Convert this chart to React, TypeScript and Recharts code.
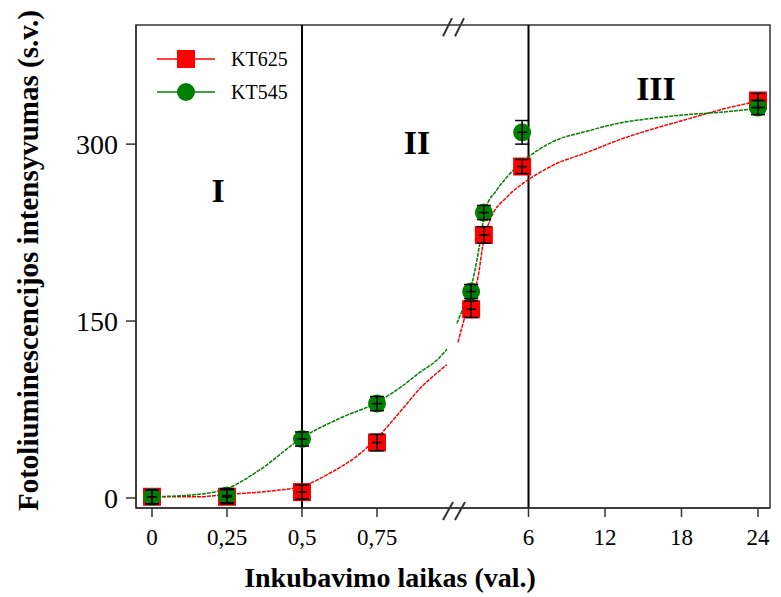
import React from 'react';
import {
  ComposedChart,
  Line,
  Scatter,
  XAxis,
  YAxis,
  ErrorBar,
  ReferenceLine,
  ReferenceDot,
  ReferenceArea,
  Legend,
  Label,
} from 'recharts';

// measured points: the first four sit on the stretched (minutes) part of the axis
const earlyTimes = [0, 0.25, 0.5, 0.75];
const lateTimes = [1.5, 2.5, 5.5, 24];

const kt625Early = [1, 1, 5, 47];
const kt625Late = [160, 223, 281, 337];
const kt625Err = [6, 6, 6, 7, 7, 7, 6, 6];

const kt545Early = [1, 2, 50, 80];
const kt545Late = [175, 242, 310, 331];
const kt545Err = [6, 6, 6, 6, 6, 6, 10, 6];

// fitted curves
const fit625EarlyT = [0, 0.15, 0.25, 0.4, 0.5, 0.6, 0.7, 0.75, 0.84, 0.89, 0.95, 0.983];
const fit625EarlyV = [1, 1, 3, 6, 10, 22, 39, 51, 77, 92, 106, 113];
const fit625LateT = [0.47, 1.0, 1.57, 2.0, 2.5, 3.0, 4.3, 5.6, 6.9, 7.9, 10.6, 13.2, 15.8, 18.4, 21.0, 23.8];
const fit625LateV = [132, 153, 171, 185, 219, 236, 255, 267, 276, 282, 293, 304, 313, 321, 329, 336];

const fit545EarlyT = [0, 0.15, 0.25, 0.36, 0.5, 0.63, 0.75, 0.84, 0.89, 0.95, 0.983];
const fit545EarlyV = [1, 3, 8, 24, 51, 68, 81, 96, 106, 117, 126];
const fit545LateT = [0.39, 1.0, 1.57, 1.96, 2.27, 2.6, 3.5, 4.3, 5.6, 6.9, 7.9, 10.6, 13.2, 15.8, 18.4, 21.0, 23.8];
const fit545LateV = [148, 165, 182, 202, 222, 244, 261, 272, 286, 296, 302, 311, 318, 322, 325, 327, 330];

const xTickTimes = [0, 0.25, 0.5, 0.75, 6, 12, 18, 24];
const xTickLabels = ['0', '0,25', '0,5', '0,75', '6', '12', '18', '24'];
const yTicks = [0, 150, 300];

const RED = '#ff0000';
const GREEN = '#008000';
const FONT = '"Liberation Serif", "Times New Roman", serif';

// broken axis: before the break 1 h = 300 units, after it 1 h = 12.75 units
const toEarly = (t: number) => t * 300;
const toLate = (t: number) => 300 + t * 12.75;
// small horizontal error (hours) on each side of the break
const errEarly = 0.017;
const errLate = 0.4;

const makePoints = (early: number[], late: number[], err: number[]) => [
  ...earlyTimes.map((t, i) => ({ x: toEarly(t), y: early[i], err: err[i], errX: errEarly * 300 })),
  ...lateTimes.map((t, i) => ({ x: toLate(t), y: late[i], err: err[i + 4], errX: errLate * 12.75 })),
];
const makeCurve = (ts: number[], vs: number[], f: (t: number) => number) =>
  ts.map((t, i) => ({ x: f(t), y: vs[i] }));

const pts625 = makePoints(kt625Early, kt625Late, kt625Err);
const pts545 = makePoints(kt545Early, kt545Late, kt545Err);

const xTicks = xTickTimes.map((t) => (t < 1 ? toEarly(t) : toLate(t)));
const xLabelFor = (v: number) => {
  const i = xTicks.findIndex((p) => Math.abs(p - v) < 0.01);
  return i >= 0 ? xTickLabels[i] : '';
};

const RedSquare = (props: any) => (
  <rect x={props.cx - 9} y={props.cy - 9} width={18} height={18} fill={RED} />
);
const GreenDot = (props: any) => <circle cx={props.cx} cy={props.cy} r={9} fill={GREEN} />;
const Nothing = () => <g />;

const renderLegend = () => (
  <svg width={160} height={60}>
    <line x1={7} x2={65} y1={14} y2={14} stroke={RED} strokeWidth={1.5} />
    <rect x={27} y={5} width={18} height={18} fill={RED} />
    <text x={81} y={21} fontFamily={FONT} fontSize={20} fill="#000">KT625</text>
    <line x1={7} x2={65} y1={47} y2={47} stroke={GREEN} strokeWidth={1.5} />
    <circle cx={36} cy={47} r={9} fill={GREEN} />
    <text x={81} y={54} fontFamily={FONT} fontSize={20} fill="#000">KT545</text>
  </svg>
);

const AXIS = '#333';
const lineProps = { dataKey: 'y', type: 'monotone' as const, strokeWidth: 1.5, strokeDasharray: '4 1', dot: false, isAnimationActive: false };
const errProps: any = { stroke: '#000', strokeWidth: 1.5, zIndex: 1000 };

export default function App() {
  return (
    <div style={{ position: 'absolute', left: 0, top: 0 }}>
      <ComposedChart width={781} height={597} margin={{ top: 25, right: 11, bottom: 0, left: 0 }}>
        <XAxis
          type="number"
          dataKey="x"
          domain={[-16, 618]}
          allowDataOverflow
          ticks={xTicks}
          tickFormatter={xLabelFor}
          interval={0}
          height={89}
          tickSize={9}
          tickMargin={12}
          stroke={AXIS}
          strokeWidth={1.5}
          tick={{ fill: '#000', fontSize: 23, fontFamily: FONT }}
        >
          <Label
            value="Inkubavimo laikas (val.)"
            position="insideBottom"
            offset={10}
            dx={-63}
            style={{ fontSize: 28, fontWeight: 'bold', fontFamily: FONT, fill: '#000' }}
          />
        </XAxis>
        <YAxis
          type="number"
          dataKey="y"
          domain={[-8.5, 401]}
          allowDataOverflow
          ticks={yTicks}
          width={136}
          tickSize={10}
          tickMargin={8}
          stroke={AXIS}
          strokeWidth={1.5}
          tick={{ fill: '#000', fontSize: 28, fontFamily: FONT }}
        >
          <Label
            value="Fotoliuminescencijos intensyvumas (s.v.)"
            position="center"
            angle={-90}
            dx={-40}
            dy={-6}
            style={{ fontSize: 29, fontWeight: 'bold', fontFamily: FONT, fill: '#000', textAnchor: 'middle' }}
          />
        </YAxis>

        <ReferenceArea x1={-16} x2={618} y1={-8.5} y2={401} fill="none" stroke={AXIS} strokeWidth={1.5} ifOverflow="visible" />
        <ReferenceLine x={toEarly(0.5)} stroke="#000" strokeWidth={2} />
        <ReferenceLine x={toLate(6)} stroke="#000" strokeWidth={2} />

        {/* axis break marks */}
        <ReferenceLine segment={[{ x: 291, y: 391.5 }, { x: 300, y: 406.8 }]} stroke={AXIS} strokeWidth={2} ifOverflow="visible" />
        <ReferenceLine segment={[{ x: 303, y: 391.5 }, { x: 312, y: 406.8 }]} stroke={AXIS} strokeWidth={2} ifOverflow="visible" />
        <ReferenceLine segment={[{ x: 291, y: -18.6 }, { x: 301, y: -3.4 }]} stroke={AXIS} strokeWidth={2} ifOverflow="visible" />
        <ReferenceLine segment={[{ x: 303, y: -18.6 }, { x: 313, y: -3.4 }]} stroke={AXIS} strokeWidth={2} ifOverflow="visible" />

        <ReferenceDot x={66} y={261} r={0} fill="none" stroke="none"
          label={{ value: 'I', position: 'center', fontSize: 34, fontWeight: 'bold', fontFamily: FONT, fill: '#000' }} />
        <ReferenceDot x={265} y={302} r={0} fill="none" stroke="none"
          label={{ value: 'II', position: 'center', fontSize: 34, fontWeight: 'bold', fontFamily: FONT, fill: '#000' }} />
        <ReferenceDot x={504} y={348} r={0} fill="none" stroke="none"
          label={{ value: 'III', position: 'center', fontSize: 34, fontWeight: 'bold', fontFamily: FONT, fill: '#000' }} />

        <Line {...lineProps} data={makeCurve(fit625EarlyT, fit625EarlyV, toEarly)} stroke={RED} />
        <Line {...lineProps} data={makeCurve(fit625LateT, fit625LateV, toLate)} stroke={RED} />
        <Line {...lineProps} data={makeCurve(fit545EarlyT, fit545EarlyV, toEarly)} stroke={GREEN} />
        <Line {...lineProps} data={makeCurve(fit545LateT, fit545LateV, toLate)} stroke={GREEN} />

        <Scatter name="KT625" data={pts625} shape={RedSquare} isAnimationActive={false} />
        <Scatter name="KT545" data={pts545} shape={GreenDot} isAnimationActive={false} />
        <Scatter data={pts625} shape={Nothing} isAnimationActive={false} legendType="none" zIndex={1000}>
          <ErrorBar {...errProps} dataKey="err" direction="y" width={7} />
          <ErrorBar {...errProps} dataKey="errX" direction="x" width={0} />
        </Scatter>
        <Scatter data={pts545} shape={Nothing} isAnimationActive={false} legendType="none" zIndex={1000}>
          <ErrorBar {...errProps} dataKey="err" direction="y" width={7} />
          <ErrorBar {...errProps} dataKey="errX" direction="x" width={0} />
        </Scatter>

        <Legend
          content={renderLegend}
          layout="horizontal"
          verticalAlign="middle"
          wrapperStyle={{ left: 150, top: 45, width: 160, height: 60 }}
        />
      </ComposedChart>
    </div>
  );
}
